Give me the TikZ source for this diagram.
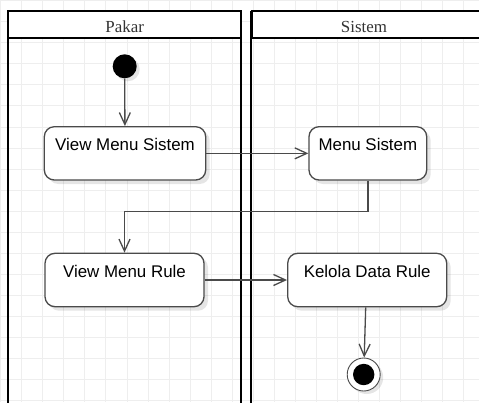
\documentclass[tikz,border=0pt]{standalone}
\usepackage{fontspec}
\setmainfont{Liberation Serif}
\newfontfamily\arialfont{Liberation Sans}
\usetikzlibrary{arrows.meta,calc,shadows}
\definecolor{gridc}{HTML}{EEEEEE}
\definecolor{linec}{HTML}{4A4A4A}
\begin{document}
\begin{tikzpicture}[x=1pt,y=-1pt,
  lane/.style={draw=black, line width=2pt},
  lanehdr/.style={draw=black, line width=2pt, fill=white, inner sep=0pt,
    font=\fontsize{16.9}{20}\selectfont, text=black!80, text height=15.6pt, text depth=0pt},
  act/.style={draw=linec, line width=1.3pt, rounded corners=10pt, fill=white, inner sep=0pt,
    font=\arialfont\fontsize{16.9}{20}\selectfont, text height=12pt, text depth=18pt,
    drop shadow={shadow xshift=4pt, shadow yshift=-4pt, fill=black, opacity=0.1}},
  flow/.style={draw=linec, line width=1.3pt, -{Straight Barb[length=12pt,width=11pt,line width=1.3pt]}},
]
\useasboundingbox (0,0) rectangle (479,402);
% grid
\foreach \i in {0,...,22} {\draw[gridc, line width=1pt] (0.65+21.06*\i,0) -- (0.65+21.06*\i,402);}
\foreach \j in {0,...,19} {\draw[gridc, line width=1pt] (0,0.65+21.06*\j) -- (479,0.65+21.06*\j);}
% swimlanes
\draw[lane] (8.3,410) -- (8.3,10.7);
\draw[lane] (241,410) -- (241,10.7);
\draw[lane] (251,410) -- (251,10.7);
\node[lanehdr, minimum width=232.7pt, minimum height=27.6pt] (pakar) at (124.65,24.5) {Pakar};
\node[lanehdr, minimum width=240pt, minimum height=27.6pt, anchor=west] (sistem) at (251,24.5) {\hspace*{-16pt}Sistem};
% start / end
\node[circle, fill=black, minimum size=24pt, inner sep=0pt,
  drop shadow={shadow xshift=3pt, shadow yshift=-3pt, fill=black, opacity=0.1}] (start) at (124.7,66.3) {};
\node[circle, draw=linec, line width=0.9pt, fill=white, minimum size=33pt, inner sep=0pt,
  drop shadow={shadow xshift=3pt, shadow yshift=-3pt, fill=black, opacity=0.1}] (endo) at (363.7,374.5) {};
\node[circle, fill=black, minimum size=21.4pt, inner sep=0pt] (endi) at (endo) {};
% activities
\node[act, minimum width=161.4pt, minimum height=53.3pt] (vms) at (125,153.35) {View Menu Sistem};
\node[act, minimum width=117.7pt, minimum height=53.3pt] (ms) at (367.85,153.35) {Menu Sistem};
\node[act, minimum width=159pt, minimum height=53.4pt] (vmr) at (124.5,280) {View Menu Rule};
\node[act, minimum width=159pt, minimum height=53.4pt] (kdr) at (367.2,280) {Kelola Data Rule};
% flows
\draw[flow] (start) -- (vms);
\draw[flow] (vms) -- (ms);
\draw[flow] (ms.south) -- ++(0,31) -| (vmr.north);
\draw[flow] (vmr) -- (kdr);
\draw[flow] ([xshift=-1.5pt]kdr.south) -- (endo);
\end{tikzpicture}
\end{document}
